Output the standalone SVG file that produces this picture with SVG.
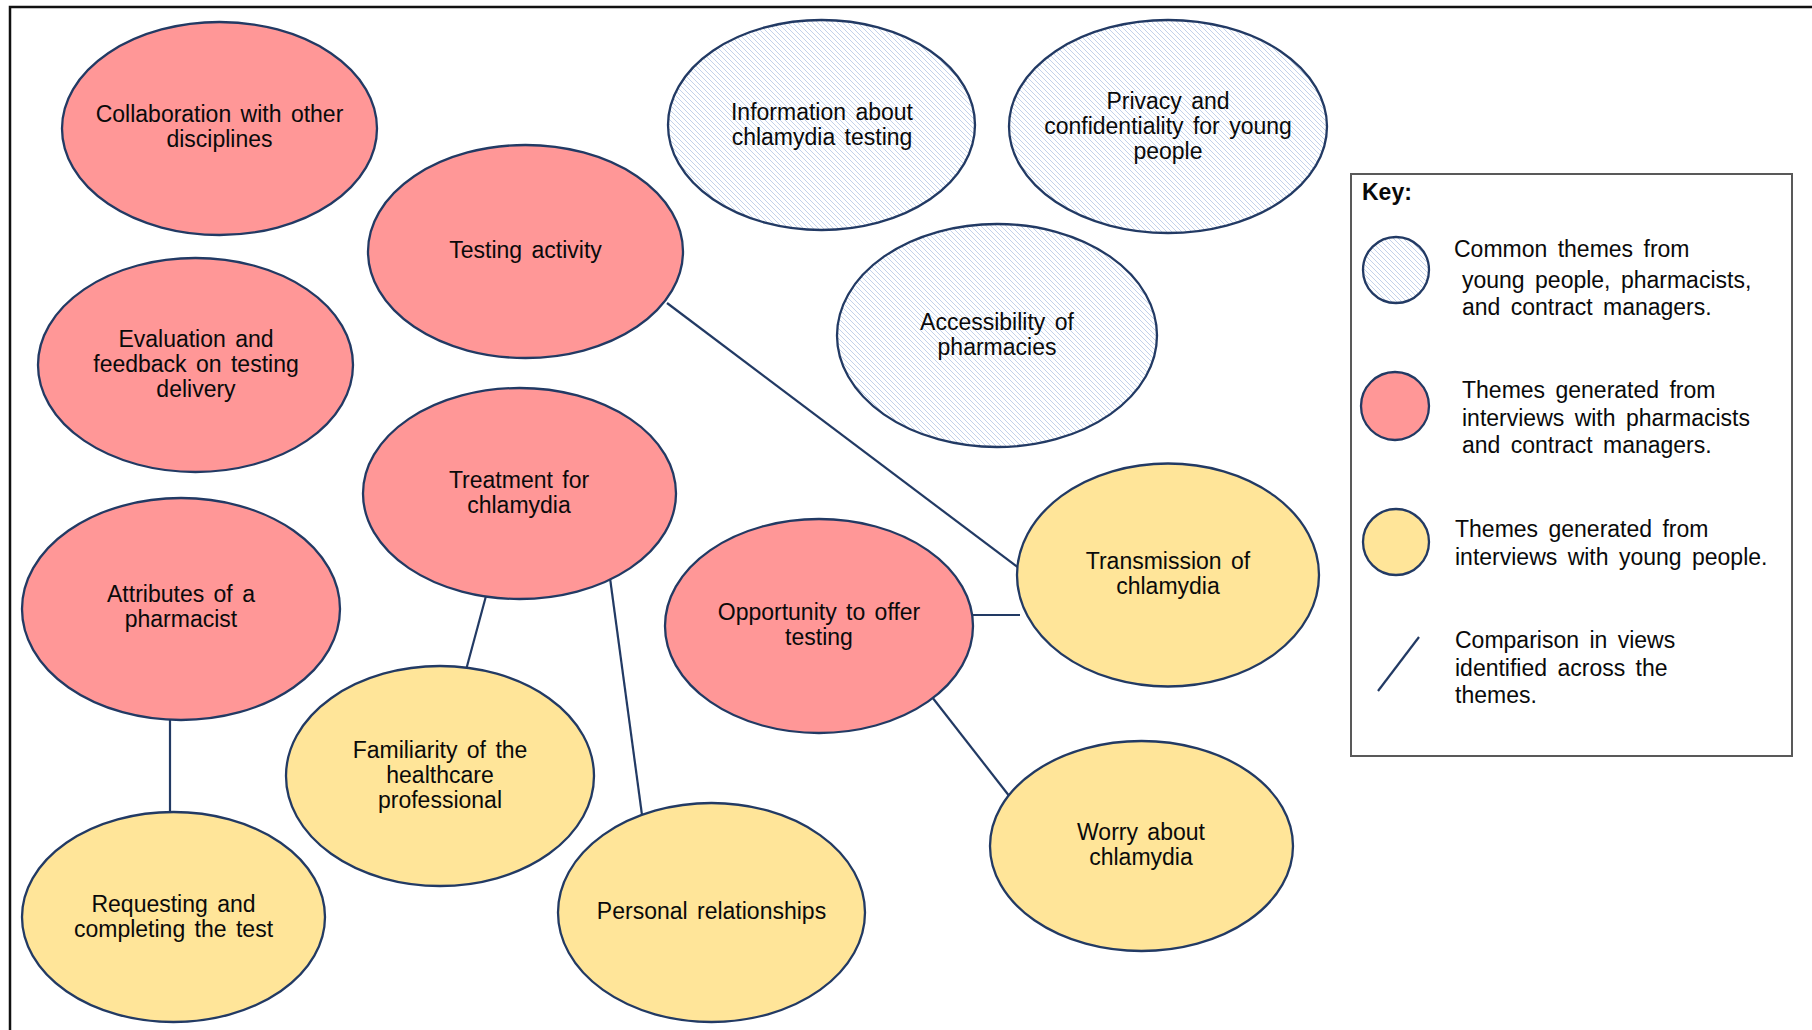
<svg xmlns="http://www.w3.org/2000/svg" width="1812" height="1030" viewBox="0 0 1812 1030">
<defs>
<pattern id="hatch" patternUnits="userSpaceOnUse" width="5" height="5">
<rect width="5" height="5" fill="#ffffff"/>
<path d="M-1,-1 L6,6 M-1,4 L1,6 M4,-1 L6,1" stroke="#c3d2ea" stroke-width="1"/>
</pattern>
<style>
.n{stroke:#223a64;stroke-width:2.3}
.red{fill:#ff9797}
.yel{fill:#ffe599}
.hat{fill:url(#hatch)}
.t{font-family:"Liberation Sans",Arial,sans-serif;font-size:23px;fill:#0a0a0a;text-anchor:middle;word-spacing:3px}
.lt{font-family:"Liberation Sans",Arial,sans-serif;font-size:23px;fill:#0a0a0a;word-spacing:4px}
.c{stroke:#223a64;stroke-width:2.2;fill:none}
</style>
</defs>
<rect width="1812" height="1030" fill="#ffffff"/>
<path d="M10,1030 V7 H1812" fill="none" stroke="#111" stroke-width="2.5"/>

<g id="connectors">
<line class="c" x1="667" y1="303" x2="1020" y2="569"/>
<line class="c" x1="486" y1="596" x2="466" y2="670"/>
<line class="c" x1="610" y1="578" x2="642" y2="815"/>
<line class="c" x1="170" y1="716" x2="170" y2="815"/>
<line class="c" x1="970" y1="615" x2="1020" y2="615"/>
<line class="c" x1="932" y1="697" x2="1010" y2="797"/>
</g>

<g id="collab"><ellipse class="n red" cx="219.5" cy="128.5" rx="157.5" ry="106.5"/>
<text class="t" x="219.5" y="122">Collaboration with other</text><text class="t" x="219.5" y="147">disciplines</text></g>

<g id="info"><ellipse class="n hat" cx="821.5" cy="125" rx="153.5" ry="105"/>
<text class="t" x="822" y="120">Information about</text><text class="t" x="822" y="145">chlamydia testing</text></g>

<g id="privacy"><ellipse class="n hat" cx="1168" cy="126.5" rx="159" ry="106.5"/>
<text class="t" x="1168" y="109">Privacy and</text><text class="t" x="1168" y="134">confidentiality for young</text><text class="t" x="1168" y="159">people</text></g>

<g id="testing"><ellipse class="n red" cx="525.5" cy="251.5" rx="157.5" ry="106.5"/>
<text class="t" x="525.5" y="258">Testing activity</text></g>

<g id="access"><ellipse class="n hat" cx="997" cy="335.5" rx="160" ry="111.5"/>
<text class="t" x="997" y="330">Accessibility of</text><text class="t" x="997" y="355">pharmacies</text></g>

<g id="eval"><ellipse class="n red" cx="195.5" cy="365" rx="157.5" ry="107"/>
<text class="t" x="196" y="347">Evaluation and</text><text class="t" x="196" y="372">feedback on testing</text><text class="t" x="196" y="397">delivery</text></g>

<g id="treatment"><ellipse class="n red" cx="519.5" cy="493.5" rx="156.5" ry="105.5"/>
<text class="t" x="519" y="488">Treatment for</text><text class="t" x="519" y="513">chlamydia</text></g>

<g id="attributes"><ellipse class="n red" cx="181" cy="609" rx="159" ry="111"/>
<text class="t" x="181" y="602">Attributes of a</text><text class="t" x="181" y="627">pharmacist</text></g>

<g id="opportunity"><ellipse class="n red" cx="819" cy="626" rx="154" ry="107"/>
<text class="t" x="819" y="620">Opportunity to offer</text><text class="t" x="819" y="645">testing</text></g>

<g id="transmission"><ellipse class="n yel" cx="1168" cy="575" rx="151" ry="111.5"/>
<text class="t" x="1168" y="569">Transmission of</text><text class="t" x="1168" y="594">chlamydia</text></g>

<g id="familiarity"><ellipse class="n yel" cx="440" cy="776" rx="154" ry="110"/>
<text class="t" x="440" y="758">Familiarity of the</text><text class="t" x="440" y="783">healthcare</text><text class="t" x="440" y="808">professional</text></g>

<g id="worry"><ellipse class="n yel" cx="1141.5" cy="846" rx="151.5" ry="105"/>
<text class="t" x="1141" y="840">Worry about</text><text class="t" x="1141" y="865">chlamydia</text></g>

<g id="personal"><ellipse class="n yel" cx="711.5" cy="912.5" rx="153.5" ry="109.5"/>
<text class="t" x="711.5" y="919">Personal relationships</text></g>

<g id="requesting"><ellipse class="n yel" cx="173.5" cy="917" rx="151.5" ry="105"/>
<text class="t" x="173.5" y="912">Requesting and</text><text class="t" x="173.5" y="937">completing the test</text></g>

<g id="key">
<rect x="1351" y="174" width="441" height="582" fill="#ffffff" stroke="#595959" stroke-width="2"/>
<text class="lt" x="1362" y="200" style="font-weight:bold">Key:</text>
<circle class="n hat" cx="1396" cy="270" r="33"/>
<text class="lt" x="1454" y="257">Common themes from</text>
<text class="lt" x="1462" y="288">young people, pharmacists,</text>
<text class="lt" x="1462" y="315">and contract managers.</text>
<circle class="n red" cx="1395" cy="406" r="34"/>
<text class="lt" x="1462" y="398">Themes generated from</text>
<text class="lt" x="1462" y="426">interviews with pharmacists</text>
<text class="lt" x="1462" y="453">and contract managers.</text>
<circle class="n yel" cx="1396" cy="542" r="33"/>
<text class="lt" x="1455" y="537">Themes generated from</text>
<text class="lt" x="1455" y="565">interviews with young people.</text>
<line class="c" x1="1378" y1="691" x2="1419" y2="637"/>
<text class="lt" x="1455" y="648">Comparison in views</text>
<text class="lt" x="1455" y="676">identified across the</text>
<text class="lt" x="1455" y="703">themes.</text>
</g>
</svg>
